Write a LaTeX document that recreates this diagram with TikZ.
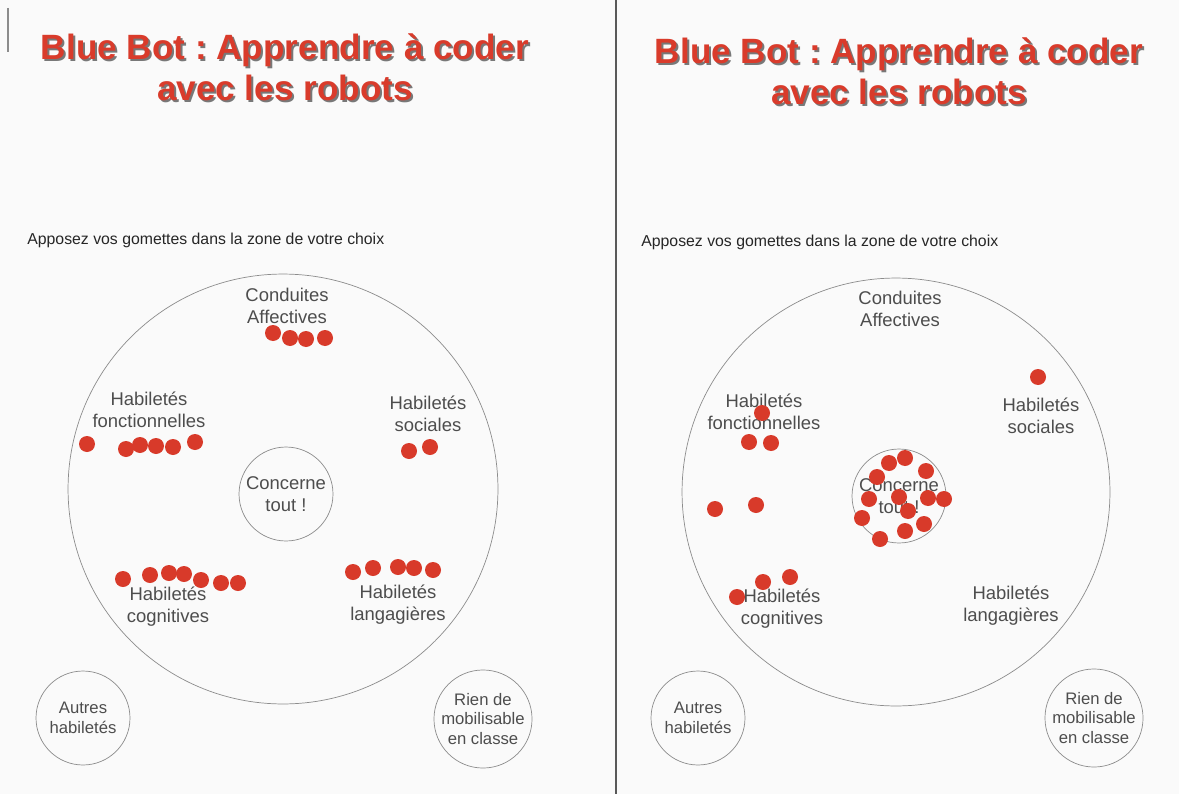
\documentclass[tikz,border=0pt]{standalone}
\usepackage{fontspec}
\setmainfont{Liberation Sans}
\frenchspacing
\definecolor{gomred}{HTML}{D83A2A}
\definecolor{titlered}{HTML}{D93B2B}
\definecolor{inkgray}{HTML}{4D4D4D}
\definecolor{ringgray}{HTML}{8C8C8C}

\begin{document}
\begin{tikzpicture}[x=0.02cm, y=-0.02cm,
			title/.style = {align=center, text=titlered, inner sep=0, font=\fontsize{20}{23.3}\selectfont\bfseries},
			titleshadow/.style = {title, text=black!80, opacity=0.65},
			consigne/.style = {anchor=west, inner sep=0, text=black!85, font=\fontsize{9}{11}\selectfont},
			zone/.style = {shape=circle, draw=ringgray, line width=0.4pt, inner sep=0, align=center, text=inkgray, font=\fontsize{10.5}{12.5}\selectfont},
			small/.style = {zone, minimum size=1.88cm, font=\fontsize{9.5}{11.3}\selectfont},
			zonelabel/.style = {align=center, inner sep=0, text=inkgray, font=\fontsize{10.5}{12.5}\selectfont},
			gomette/.style = {shape=circle, fill=gomred, minimum size=0.32cm, inner sep=0}]

			\useasboundingbox (0,0) rectangle (1179,794);
			\fill[black!2] (0,0) rectangle (1179,794);
			\draw[black!45, line width=1pt] (8,8) -- (8,52);
			\draw[black!65, line width=1pt] (616,0) -- (616,794);

			% left sheet
			\node[titleshadow] (titleLs) at (287,69.5) {Blue Bot : Apprendre à coder\\avec les robots};
			\node[title] (titleL) at (285,67.5) {Blue Bot : Apprendre à coder\\avec les robots};
			\node[consigne] (consL) at (27,240) {Apposez vos gomettes dans la zone de votre choix};

			\node[zone, minimum size=8.6cm] (cercleL) at (283,489) {};
			\node[zone, minimum size=1.88cm] (centreL) at (286,494) {Concerne\\tout !};
			\node[zonelabel] (condL) at (287,305.5) {Conduites\\Affectives};
			\node[zonelabel] (foncL) at (149,409.5) {Habiletés\\fonctionnelles};
			\node[zonelabel] (socL) at (428,413.5) {Habiletés\\sociales};
			\node[zonelabel] (cogL) at (168,607) {Habiletés\\cognitives};
			\node[zonelabel] (langL) at (398,605) {Habiletés\\langagières};
			\node[small] (autresL) at (83,718) {Autres\\habiletés};
			\node[small] (rienL) at (483,719) {Rien de\\mobilisable\\en classe};

			\foreach \p [count=\i] in {(273,333),(290,338),(306,339),(325,338),
					(87,444),(126,449),(140,445),(156,446),(173,447),(195,442),
					(409,451),(430,447),
					(123,579),(150,575),(169,573),(184,574),(201,580),(221,583),(238,583),
					(353,572),(373,568),(398,567),(414,568),(433,570)}
				\node[gomette] (gL\i) at \p {};

			% right sheet
			\node[titleshadow] (titleRs) at (901,73) {Blue Bot : Apprendre à coder\\avec les robots};
			\node[title] (titleR) at (899,71) {Blue Bot : Apprendre à coder\\avec les robots};
			\node[consigne] (consR) at (641,242) {Apposez vos gomettes dans la zone de votre choix};

			\node[zone, minimum size=8.56cm] (cercleR) at (896,492) {};
			\node[zone, minimum size=1.88cm] (centreR) at (899,496) {Concerne\\tout !};
			\node[zonelabel] (condR) at (900,309) {Conduites\\Affectives};
			\node[zonelabel] (foncR) at (764,412) {Habiletés\\fonctionnelles};
			\node[zonelabel] (socR) at (1041,416) {Habiletés\\sociales};
			\node[zonelabel] (cogR) at (782,608.5) {Habiletés\\cognitives};
			\node[zonelabel] (langR) at (1011,606) {Habiletés\\langagières};
			\node[small] (autresR) at (698,718) {Autres\\habiletés};
			\node[small] (rienR) at (1094,718) {Rien de\\mobilisable\\en classe};

			\foreach \p [count=\i] in {(1038,377),(762,413),(749,442),(771,443),
					(715,509),(756,505),(763,582),(790,577),(737,597),
					(905,458),(889,463),(926,471),(877,477),(869,499),(899,497),(928,498),
					(944,499),(908,511),(862,518),(924,524),(905,531),(880,539)}
				\node[gomette] (gR\i) at \p {};
\end{tikzpicture}
\end{document}
